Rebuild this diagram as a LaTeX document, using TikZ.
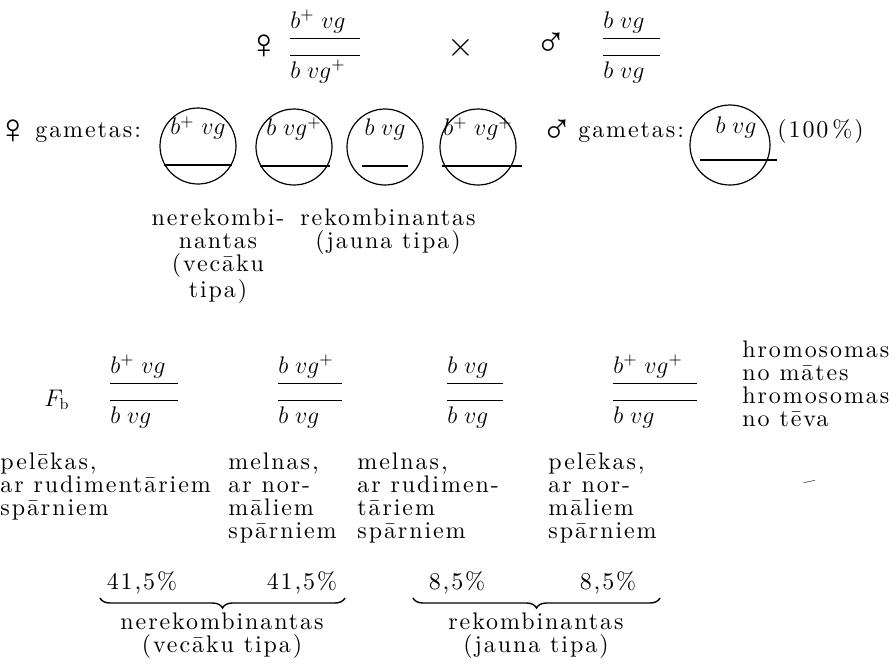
\documentclass[tikz,border=0pt]{standalone}
\usepackage{fontspec}
\setmainfont{lmroman10-regular.otf}[LetterSpace=8]
\newfontfamily\sexfont{Liberation Sans}
\usetikzlibrary{positioning,calc,decorations.pathreplacing}
\newcommand{\figfont}{\fontsize{12}{11.5}\selectfont}
\tikzset{
  gam/.style={circle, draw, line width=0.6pt, minimum size=38pt, inner sep=0pt},
  gtxt/.style={inner sep=0pt, font=\figfont},
  lbl/.style={inner sep=0pt, font=\figfont, align=center, anchor=north},
  pheno/.style={inner sep=0pt, font=\figfont, align=left, anchor=north west},
  bar/.style={line width=0.5pt},
  chrom/.style={line width=1.1pt},
  brc/.style={decorate, decoration={brace, mirror, amplitude=5pt}, line width=0.7pt},
  sex/.style={inner sep=0pt, font=\sexfont\fontsize{21}{21}\selectfont},
}
% genotype: two chromosomes written one over the other
\newcommand{\Geno}[6]{%
  \node[gtxt, anchor=base west] (#1t) at (#2,#3) {#4};
  \draw[bar] ([shift={(0,10)}]#1t.base west) -- ++(#6,0);
  \draw[bar] ([shift={(0,27)}]#1t.base west) -- ++(#6,0);
  \node[gtxt, anchor=base west] (#1b) at ([shift={(0,50)}]#1t.base west) {#5};}
% gamete: circle, chromosome text, chromosome line
\newcommand{\Gamete}[6]{%
  \node[gam] (#1) at (#2,#3) {};
  \node[gtxt] (#1t) at ([shift={(0,-18)}]#1.center) {#4};
  \draw[chrom] ([shift={(#5,19)}]#1.center) -- ([shift={(#6,19)}]#1.center);}

\begin{document}
\begin{tikzpicture}[x=0.5pt, y=-0.5pt]
  \useasboundingbox (0,0) rectangle (896,671);

  % --- parents -------------------------------------------------------------
  \node[sex] (pfem) at (264,47) {♀};
  \Geno{pf}{290}{28}{$b^{+}\;vg$}{$b\;vg^{+}$}{70}
  \node[gtxt, font=\fontsize{17}{17}\selectfont] (cross) at (461,48) {$\times$};
  \node[sex] (pmal) at (551,45) {♂};
  \Geno{pm}{603}{28}{$b\;vg$}{$b\;vg$}{57}

  % --- gametes -------------------------------------------------------------
  \node[sex] (gfem) at (13,132) {♀};
  \node[gtxt, anchor=base west] (gfemlbl) at (35,137) {gametas:};
  \Gamete{g1}{198}{146}{$b^{+}\;vg$}{-34}{34}
  \Gamete{g2}{294}{147}{$b\;vg^{+}$}{-34}{36}
  \Gamete{g3}{385}{147}{$b\;vg$}{-23}{23}
  \Gamete{g4}{478}{147}{$b^{+}\;vg^{+}$}{-36}{44}
  \node[sex] (gmal) at (557,132) {♂};
  \node[gtxt, anchor=base west] (gmallbl) at (578,137) {gametas:};
  \node[gam, minimum size=40pt] (g5) at (730,145) {};
  \node[gtxt] (g5t) at ([shift={(6,-18)}]g5.center) {$b\;vg$};
  \draw[chrom] ([shift={(-30,15)}]g5.center) -- ([shift={(47,15)}]g5.center);
  \node[gtxt, anchor=base west] (gall) at (777,137) {(100\,\%)};

  \node[lbl] (nonrec) at (218,208) {nerekombi-\\nantas\\(vecāku\\tipa)};
  \node[lbl] (rec) at (388,208) {rekombinantas\\(jauna tipa)};

  % --- offspring -----------------------------------------------------------
  \node[gtxt] (fb) at (57,400) {$F_{\mathrm{b}}$};
  \Geno{f1}{110}{373}{$b^{+}\;vg$}{$b\;vg$}{68}
  \Geno{f2}{278}{373}{$b\;vg^{+}$}{$b\;vg$}{64}
  \Geno{f3}{447}{373}{$b\;vg$}{$b\;vg$}{56}
  \Geno{f4}{613}{373}{$b^{+}\;vg^{+}$}{$b\;vg$}{84}
  \node[pheno] (chrom) at (742,340) {hromosomas\\no mātes\\hromosomas\\no tēva};

  \node[pheno] (ph1) at (0,452) {pelēkas,\\ar rudimentāriem\\spārniem};
  \node[pheno] (ph2) at (228,452) {melnas,\\ar nor-\\māliem\\spārniem};
  \node[pheno] (ph3) at (357,452) {melnas,\\ar rudimen-\\tāriem\\spārniem};
  \node[pheno] (ph4) at (548,452) {pelēkas,\\ar nor-\\māliem\\spārniem};
  \node[gtxt, rotate=12] (dash) at (810,485) {\textendash};

  % --- frequencies ---------------------------------------------------------
  \node[gtxt] (p1) at (142,583) {41,5\%};
  \node[gtxt] (p2) at (302,583) {41,5\%};
  \node[gtxt] (p3) at (457,583) {8,5\%};
  \node[gtxt] (p4) at (608,583) {8,5\%};
  \coordinate (b1l) at (100,598);
  \coordinate (b1r) at (345,598);
  \coordinate (b2l) at (413,598);
  \coordinate (b2r) at (660,598);
  \draw[brc] (b1l) -- (b1r);
  \draw[brc] (b2l) -- (b2r);
  \node[lbl] (nonrecsum) at (222,612) {nerekombinantas\\(vecāku tipa)};
  \node[lbl] (recsum) at (536,612) {rekombinantas\\(jauna tipa)};
\end{tikzpicture}
\end{document}
